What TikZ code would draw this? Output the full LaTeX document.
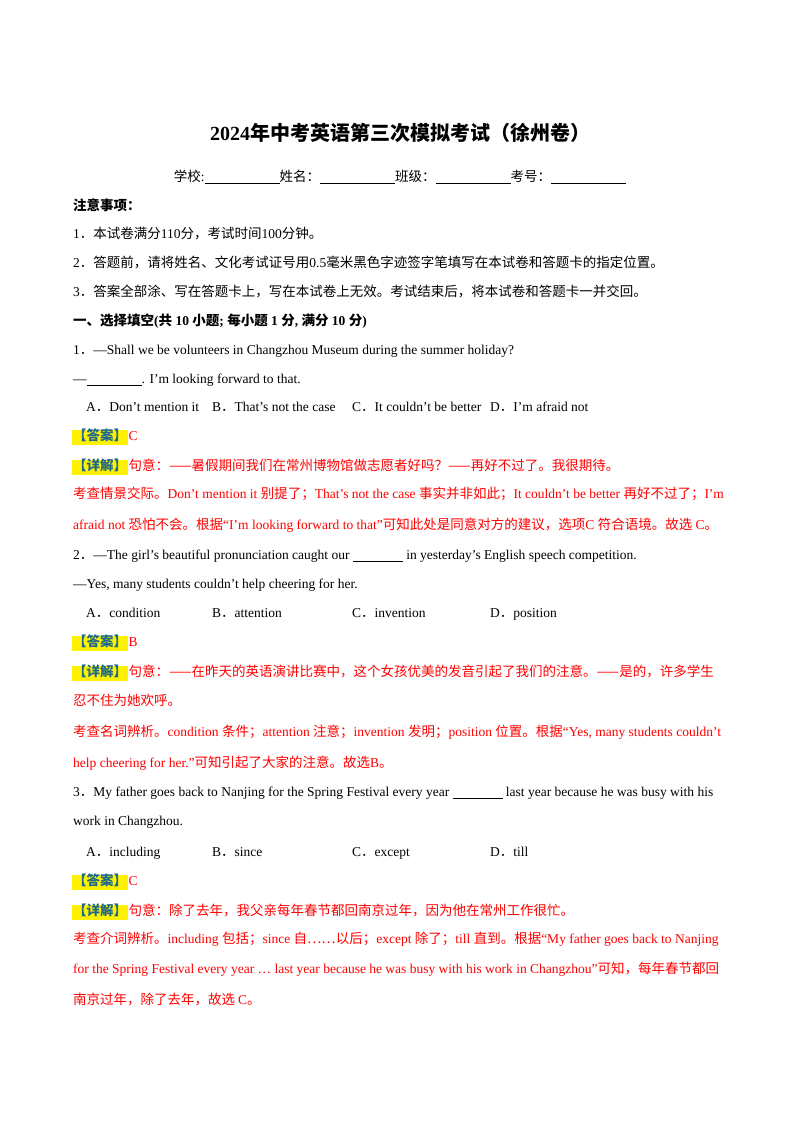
\documentclass[tikz,border=0pt]{standalone}
\usepackage{fontspec}
\setmainfont{Liberation Serif}
\newfontfamily\zh{Noto Sans CJK SC}
\definecolor{ans}{HTML}{1F6A8A}
\definecolor{rd}{HTML}{FF0000}
\begin{document}
\begin{tikzpicture}[x=1pt,y=-1pt,
  t/.style={anchor=west,inner sep=0pt,text height=10pt,text depth=3pt,font=\fontsize{13.5}{14}\selectfont},
  r/.style={t,text=rd},
  lab/.style={anchor=west,inner sep=1pt,text height=10pt,text depth=3pt,fill=yellow,text=ans,font=\fontsize{13.5}{14}\selectfont\bfseries\zh}]
\useasboundingbox (0,0) rectangle (800,1132);
\fill[white] (0,0) rectangle (800,1132);
\def\u#1{\rule[-2pt]{#1pt}{0.5pt}}
\node[anchor=center,inner sep=0pt,font=\fontsize{20}{22}\selectfont\bfseries] (title) at (400,133) {2024{\zh 年中考英语第三次模拟考试（徐州卷）}};
\node[t,anchor=center] (school) at (400,178) {{\zh 学校}:\u{75}{\zh 姓名：}\u{75}{\zh 班级：}\u{75}{\zh 考号：}\u{75}};
\node[t,font=\fontsize{13.5}{14}\selectfont\bfseries\zh] (zy) at (73,207) {注意事项：};
\node[t] (n1) at (73,235) {1{\zh ．本试卷满分}110{\zh 分，考试时间}100{\zh 分钟。}};
\node[t] (n2) at (73,264) {2{\zh ．答题前，请将姓名、文化考试证号用}0.5{\zh 毫米黑色字迹签字笔填写在本试卷和答题卡的指定位置。}};
\node[t] (n3) at (73,293) {3{\zh ．答案全部涂、写在答题卡上，写在本试卷上无效。考试结束后，将本试卷和答题卡一并交回。}};
\node[t,font=\fontsize{13.5}{14}\selectfont\bfseries] (sec) at (73,322) {{\zh 一、选择填空}({\zh 共} 10 {\zh 小题}; {\zh 每小题} 1 {\zh 分}, {\zh 满分} 10 {\zh 分})};
% Q1
\node[t] (q1) at (73,351) {1{\zh ．}—Shall we be volunteers in Changzhou Museum during the summer holiday?};
\node[t] (q1b) at (73,380) {—\u{55}. I’m looking forward to that.};
\node[t] (q1A) at (86,408) {A{\zh ．}Don’t mention it};
\node[t] (q1B) at (212,408) {B{\zh ．}That’s not the case};
\node[t] (q1C) at (352,408) {C{\zh ．}It couldn’t be better};
\node[t] (q1D) at (490,408) {D{\zh ．}I’m afraid not};
\node[lab] (a1) at (72,437) {【答案】};
\node[r,anchor=west] (a1t) at (a1.east) {C};
\node[lab] (d1) at (72,467) {【详解】};
\node[r,anchor=west] (d1t) at (d1.east) {\zh 句意：——暑假期间我们在常州博物馆做志愿者好吗？——再好不过了。我很期待。};
\node[r] (e1) at (73,495) {{\zh 考查情景交际。}Don’t mention it {\zh 别提了；}That’s not the case {\zh 事实并非如此；}It couldn’t be better {\zh 再好不过了；}I’m};
\node[r] (e1b) at (73,526) {afraid not {\zh 恐怕不会。根据}“I’m looking forward to that”{\zh 可知此处是同意对方的建议，选项}C {\zh 符合语境。故选} C{\zh 。}};
% Q2
\node[t] (q2) at (73,556) {2{\zh ．}—The girl’s beautiful pronunciation caught our \u{50} in yesterday’s English speech competition.};
\node[t] (q2b) at (73,585) {—Yes, many students couldn’t help cheering for her.};
\node[t] (q2A) at (86,614) {A{\zh ．}condition};
\node[t] (q2B) at (212,614) {B{\zh ．}attention};
\node[t] (q2C) at (352,614) {C{\zh ．}invention};
\node[t] (q2D) at (490,614) {D{\zh ．}position};
\node[lab] (a2) at (72,643) {【答案】};
\node[r,anchor=west] (a2t) at (a2.east) {B};
\node[lab] (d2) at (72,673) {【详解】};
\node[r,anchor=west] (d2t) at (d2.east) {\zh 句意：——在昨天的英语演讲比赛中，这个女孩优美的发音引起了我们的注意。——是的，许多学生};
\node[r] (d2b) at (73,702) {\zh 忍不住为她欢呼。};
\node[r] (e2) at (73,733) {{\zh 考查名词辨析。}condition {\zh 条件；}attention {\zh 注意；}invention {\zh 发明；}position {\zh 位置。根据}“Yes, many students couldn’t};
\node[r] (e2b) at (73,764) {help cheering for her.”{\zh 可知引起了大家的注意。故选}B{\zh 。}};
% Q3
\node[t] (q3) at (73,793) {3{\zh ．}My father goes back to Nanjing for the Spring Festival every year \u{50} last year because he was busy with his};
\node[t] (q3b) at (73,822) {work in Changzhou.};
\node[t] (q3A) at (86,853) {A{\zh ．}including};
\node[t] (q3B) at (212,853) {B{\zh ．}since};
\node[t] (q3C) at (352,853) {C{\zh ．}except};
\node[t] (q3D) at (490,853) {D{\zh ．}till};
\node[lab] (a3) at (72,882) {【答案】};
\node[r,anchor=west] (a3t) at (a3.east) {C};
\node[lab] (d3) at (72,912) {【详解】};
\node[r,anchor=west] (d3t) at (d3.east) {\zh 句意：除了去年，我父亲每年春节都回南京过年，因为他在常州工作很忙。};
\node[r] (e3) at (73,940) {{\zh 考查介词辨析。}including {\zh 包括；}since {\zh 自……以后；}except {\zh 除了；}till {\zh 直到。根据}“My father goes back to Nanjing};
\node[r] (e3b) at (73,970) {for the Spring Festival every year … last year because he was busy with his work in Changzhou”{\zh 可知，每年春节都回}};
\node[r] (e3c) at (73,1001) {\zh 南京过年，除了去年，故选 \rmfamily C\zh 。};
\end{tikzpicture}
\end{document}
